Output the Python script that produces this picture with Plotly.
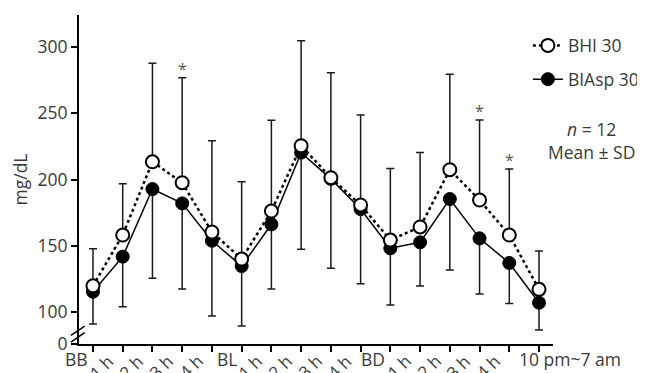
import plotly.graph_objects as go

labels = ["BB", "1 h", "2 h", "3 h", "4 h", "BL", "1 h", "2 h", "3 h", "4 h",
          "BD", "1 h", "2 h", "3 h", "4 h", "10 pm~7 am"]
bhi = [119.8, 158.1, 213.4, 197.6, 160.4, 140.0, 176.2, 225.5, 201.4, 180.8,
       154.3, 164.2, 207.4, 184.5, 158.1, 117.1]
biasp = [115.3, 141.8, 192.8, 182.0, 153.8, 134.7, 166.2, 220.3, 200.5, 177.7,
         148.1, 152.6, 185.3, 155.6, 137.0, 107.0]
sd_bhi = [28.0, 38.7, 74.3, 79.3, 68.9, 58.4, 68.5, 79.3, 79.2, 67.9,
          54.1, 56.3, 72.0, 60.4, 49.8, 28.9]
sd_biasp = [24.4, 37.8, 67.4, 64.6, 56.8, 45.3, 48.8, 73.0, 67.5, 56.3,
            42.8, 33.0, 53.6, 42.0, 30.5, 20.6]
star_idx = [3, 13, 14]
y_ticks = [100, 150, 200, 250, 300]

x = list(range(len(labels)))
ZERO = 75.85  # axis bottom, shown as "0" (broken axis)
FONT = "Open Sans"
TXT = "#3a3a3a"
FS = 17.5

fig = go.Figure()
fig.add_trace(go.Scatter(
    x=x, y=biasp, name="BIAsp 30", mode="lines+markers", legendrank=2, legendgroup="b",
    line=dict(color="black", width=1.5),
    marker=dict(symbol="circle", size=13, color="black", line=dict(color="black", width=1)),
    error_y=dict(type="data", symmetric=False, array=[0] * len(x), arrayminus=sd_biasp,
                 color="#1a1a1a", thickness=1.5, width=4),
))
fig.add_trace(go.Scatter(
    x=x, y=bhi, name="BHI 30", mode="lines+markers", legendrank=1, legendgroup="a",
    line=dict(color="black", width=2.5, dash="dot"),
    marker=dict(symbol="circle", size=13, color="white", line=dict(color="black", width=2)),
    error_y=dict(type="data", symmetric=False, array=sd_bhi, arrayminus=[0] * len(x),
                 color="#1a1a1a", thickness=1.5, width=4),
))

annotations = []
for i, lab in enumerate(labels):
    if lab in ("BB", "BL", "BD"):
        annotations.append(dict(x=i, y=0, xref="x", yref="paper", text=lab, showarrow=False,
                                xanchor="right", yanchor="top", xshift=-3, yshift=-1,
                                font=dict(family=FONT, size=FS, color=TXT)))
    elif i == len(labels) - 1:
        annotations.append(dict(x=i, y=0, xref="x", yref="paper", text=lab, showarrow=False,
                                xanchor="left", yanchor="top", xshift=-22, yshift=-1,
                                font=dict(family=FONT, size=FS, color=TXT)))
    else:
        annotations.append(dict(x=i, y=0, xref="x", yref="paper", text=lab, showarrow=False,
                                textangle=-45, xanchor="right", yanchor="top", xshift=-1, yshift=-3,
                                font=dict(family=FONT, size=17, color=TXT)))
for i in star_idx:
    annotations.append(dict(x=i, y=bhi[i] + sd_bhi[i], xref="x", yref="y", text="*",
                            showarrow=False, xanchor="center", yanchor="bottom", yshift=-4,
                            font=dict(family=FONT, size=16, color="#555555")))
annotations.append(dict(x=1.0, y=0.695, xref="paper", yref="paper",
                        text="<i>n</i> = 12<br>Mean ± SD", showarrow=False, align="center",
                        xanchor="left", yanchor="top", xshift=-7,
                        font=dict(family=FONT, size=FS, color=TXT)))

shapes = []
for dy in (0, 5):
    shapes.append(dict(type="line", xref="paper", yref="y",
                       x0=-0.017, x1=0.012, y0=ZERO + 1.5 + dy, y1=ZERO + 8.5 + dy,
                       line=dict(color="black", width=1.5)))

# the page body adds an 8px offset, so the figure is 637x365 inside the 645x373 window
fig.update_layout(
    width=637, height=365,
    margin=dict(l=71, r=92, t=7, b=29, autoexpand=False),
    paper_bgcolor="white", plot_bgcolor="white",
    font=dict(family=FONT, size=FS, color=TXT),
    showlegend=True,
    legend=dict(x=0.947, y=0.962, xanchor="left", yanchor="top", tracegroupgap=8,
                bgcolor="rgba(0,0,0,0)", font=dict(family=FONT, size=FS, color=TXT),
                itemwidth=30),
    annotations=annotations, shapes=shapes,
)
fig.update_xaxes(range=[-0.47, 15.47], tickvals=x, ticktext=[""] * len(x),
                 showline=True, linecolor="black", linewidth=2,
                 ticks="outside", ticklen=6, tickwidth=2, tickcolor="black",
                 showgrid=False, zeroline=False, automargin=False)
fig.update_yaxes(range=[ZERO, 324.2], tickvals=[ZERO] + y_ticks,
                 ticktext=["0"] + [str(v) for v in y_ticks],
                 showline=True, linecolor="black", linewidth=2,
                 ticks="outside", ticklen=6, tickwidth=2, tickcolor="black",
                 showgrid=False, zeroline=False, automargin=False,
                 title=dict(text="mg/dL", standoff=8, font=dict(family=FONT, size=FS, color=TXT)),
                 tickfont=dict(family=FONT, size=FS, color=TXT))

fig.write_html("out.html")
